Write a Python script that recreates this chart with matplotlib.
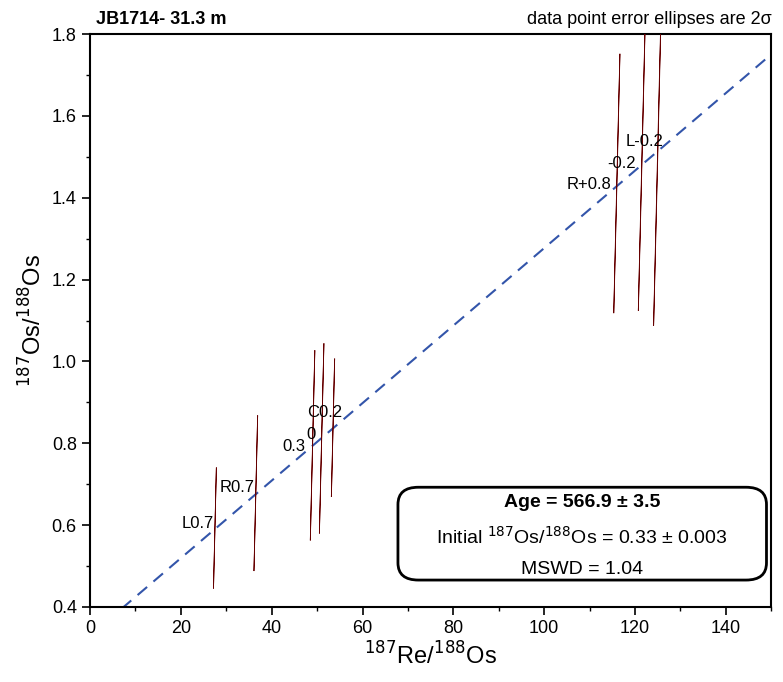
import matplotlib
matplotlib.use("Agg")
import matplotlib.pyplot as plt
import numpy as np
from matplotlib.patches import Ellipse, FancyBboxPatch
from matplotlib.ticker import MultipleLocator

labels = ["L0.7", "R0.7", "0.3", "0", "C0.2", "R+0.8", "-0.2", "L-0.2"]
re_os = [27.5, 36.5, 49.0, 51.0, 53.5, 116.0, 121.5, 125.0]
os_os = [0.593, 0.678, 0.795, 0.812, 0.838, 1.435, 1.483, 1.510]
ell_w = [0.7, 0.9, 1.1, 1.1, 0.8, 1.5, 1.7, 2.0]
ell_h = [0.007, 0.009, 0.011, 0.011, 0.009, 0.016, 0.018, 0.022]
initial = 0.33
slope = 0.00947

plt.rcParams["font.family"] = "Liberation Sans"
fig = plt.figure(figsize=(7.83, 6.82), dpi=100)
ax = fig.add_axes([0.115, 0.110, 0.870, 0.840])
ax.set_xlim(0, 150)
ax.set_ylim(0.4, 1.8)

xs = np.array([0, 150])
ax.plot(xs, initial + slope * xs, ls=(0, (6, 4)), color="#3355aa", lw=1.5)

for x, y, w, h in zip(re_os, os_os, ell_w, ell_h):
    ax.add_patch(Ellipse((x, y), w, h, angle=25, facecolor="red", edgecolor="#660000", lw=0.6, zorder=3))

offs = {"L0.7": (-1, 3), "R0.7": (-1, 4), "0.3": (-5, -1), "0": (-4, 3),
        "C0.2": (7, 11), "R+0.8": (-4, -1), "-0.2": (-4, 0), "L-0.2": (4, 8)}
for l, x, y in zip(labels, re_os, os_os):
    ax.annotate(l, (x, y), xytext=offs[l], textcoords="offset points",
                ha="right", va="center", fontsize=12)

ax.xaxis.set_major_locator(MultipleLocator(20))
ax.xaxis.set_minor_locator(MultipleLocator(10))
ax.yaxis.set_major_locator(MultipleLocator(0.2))
ax.yaxis.set_minor_locator(MultipleLocator(0.1))
ax.yaxis.set_major_formatter(matplotlib.ticker.FormatStrFormatter("%.1f"))
ax.tick_params(which="major", length=6, width=1.2, labelsize=13)
ax.tick_params(which="minor", length=3, width=1)
for s in ax.spines.values():
    s.set_linewidth(1.5)

ax.set_xlabel(r"$^{187}$Re/$^{188}$Os", fontsize=17)
ax.set_ylabel(r"$^{187}$Os/$^{188}$Os", fontsize=17)

fig.text(0.123, 0.972, "JB1714- 31.3 m", fontsize=13, fontweight="bold", va="center")
fig.text(0.985, 0.972, "data point error ellipses are 2σ", fontsize=13, ha="right", va="center")

ax.text(0.722, 0.183, "Age = 566.9 ± 3.5", transform=ax.transAxes, ha="center", va="center",
        fontsize=14, fontweight="bold", zorder=5)
ax.text(0.722, 0.122, r"Initial $^{187}$Os/$^{188}$Os = 0.33 ± 0.003", transform=ax.transAxes,
        ha="center", va="center", fontsize=14, zorder=5)
ax.text(0.722, 0.066, "MSWD = 1.04", transform=ax.transAxes, ha="center", va="center",
        fontsize=14, zorder=5)
ax.add_patch(FancyBboxPatch((0.452, 0.047), 0.541, 0.162, boxstyle="round,pad=0,rounding_size=0.03",
                            transform=ax.transAxes, facecolor="white", edgecolor="black", lw=2, zorder=4))

fig.savefig("out.png", dpi=100)
